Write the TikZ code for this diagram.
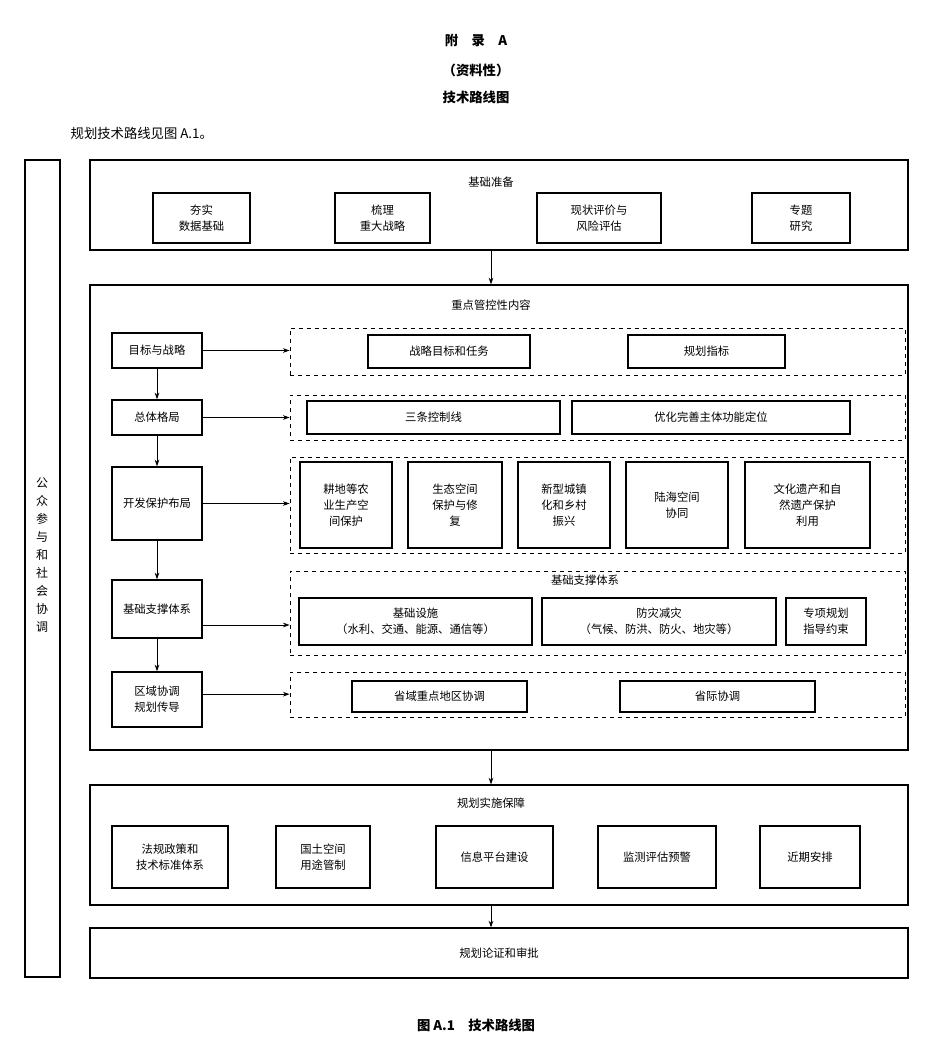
\documentclass[tikz,border=0pt]{standalone}
\usepackage{fontspec}
\setmainfont{Noto Sans CJK SC}
\usetikzlibrary{fit,arrows.meta}
\begin{document}
\begin{tikzpicture}[x=0.75pt, y=-0.75pt,
    font=\fontsize{8.5}{12}\selectfont,
    box/.style={draw, line width=1.1pt, inner sep=0pt},
    txt/.style={label={[align=center]center:#1}},
    outer/.style={draw, line width=0.9pt, inner sep=0pt},
    dbox/.style={draw, dashed, line width=0.6pt, inner sep=0pt},
    arr/.style={-{Stealth[length=5pt,width=3.5pt]}, line width=0.6pt}]
    \useasboundingbox (0,0) rectangle (932,1055);
    % headings
    \node[font=\fontsize{10}{12}\selectfont\bfseries] (hA) at (476,40) {附\quad 录\quad A};
    \node[font=\fontsize{10}{12}\selectfont\bfseries] (hB) at (476,70) {（资料性）};
    \node[font=\fontsize{10}{12}\selectfont\bfseries] (hC) at (476,97) {技术路线图};
    \node[anchor=west, font=\fontsize{10}{12}\selectfont] (intro) at (66,133) {规划技术路线见图 A.1。};
    % side bar
    \node[outer, fit={(25,160) (60,977)}] (side) {};
    \node[align=center, font=\fontsize{9}{13.5}\selectfont] at (42,555) {公\\众\\参\\与\\和\\社\\会\\协\\调};
    % base preparation
    \node[outer, fit={(90,160) (908,250)}] (prep) {};
    \node (prepT) at (491,182) {基础准备};
    \node[box, fit={(153,193) (250,243)}, txt={夯实\\数据基础}] (p1) {};
    \node[box, fit={(335,193) (430,243)}, txt={梳理\\重大战略}] (p2) {};
    \node[box, fit={(537,193) (661,243)}, txt={现状评价与\\风险评估}] (p3) {};
    \node[box, fit={(752,193) (850,243)}, txt={专题\\研究}] (p4) {};
    % key contents
    \node[outer, fit={(90,285) (908,750)}] (core) {};
    \node (coreT) at (491,305) {重点管控性内容};
    \draw[arr] (prep.south -| coreT) -- (core.north -| coreT);
    \node[box, fit={(112,333) (202,368)}, txt={目标与战略}] (goal) {};
    \node[box, fit={(112,400) (202,435)}, txt={总体格局}] (frame) {};
    \node[box, fit={(112,467) (202,540)}, txt={开发保护布局}] (layout) {};
    \node[box, fit={(112,580) (202,638)}, txt={基础支撑体系}] (supp) {};
    \node[box, fit={(112,672) (202,727)}, txt={区域协调\\规划传导}] (region) {};
    \foreach \a/\b in {goal/frame, frame/layout, layout/supp, supp/region}
      \draw[arr] (\a) -- (\b);
    \node[dbox, fit={(290,328) (905,375)}] (d1) {};
    \node[dbox, fit={(290,395) (905,440)}] (d2) {};
    \node[dbox, fit={(290,457) (905,553)}] (d3) {};
    \node[dbox, fit={(290,571) (905,655)}] (d4) {};
    \node[dbox, fit={(290,672) (905,717)}] (d5) {};
    \coordinate (suppA) at ([yshift=-12pt]supp.east);
    \coordinate (regionA) at ([yshift=4pt]region.east);
    \draw[arr] (goal) -- (d1.west |- goal);
    \draw[arr] (frame) -- (d2.west |- frame);
    \draw[arr] (layout) -- (d3.west |- layout);
    \draw[arr] (suppA) -- (d4.west |- suppA);
    \draw[arr] (regionA) -- (d5.west |- regionA);
    \node[box, fit={(368,335) (530,368)}, txt={战略目标和任务}] {};
    \node[box, fit={(628,335) (785,368)}, txt={规划指标}] {};
    \node[box, fit={(307,401) (560,434)}, txt={三条控制线}] {};
    \node[box, fit={(572,401) (850,434)}, txt={优化完善主体功能定位}] {};
    \node[box, fit={(300,462) (392,548)}, txt={耕地等农\\业生产空\\间保护}] {};
    \node[box, fit={(408,462) (502,548)}, txt={生态空间\\保护与修\\复}] {};
    \node[box, fit={(518,462) (610,548)}, txt={新型城镇\\化和乡村\\振兴}] {};
    \node[box, fit={(626,462) (728,548)}, txt={陆海空间\\协同}] {};
    \node[box, fit={(745,462) (870,548)}, txt={文化遗产和自\\然遗产保护\\利用}] {};
    \node (d4T) at (585,580) {基础支撑体系};
    \node[box, fit={(299,598) (532,645)}, txt={基础设施\\（水利、交通、能源、通信等）}] {};
    \node[box, fit={(542,598) (776,645)}, txt={防灾减灾\\（气候、防洪、防火、地灾等）}] {};
    \node[box, fit={(786,598) (866,645)}, txt={专项规划\\指导约束}] {};
    \node[box, fit={(352,681) (527,712)}, txt={省域重点地区协调}] {};
    \node[box, fit={(620,681) (815,712)}, txt={省际协调}] {};
    % implementation
    \node[outer, fit={(90,785) (908,905)}] (impl) {};
    \node (implT) at (491,803) {规划实施保障};
    \draw[arr] (core.south -| implT) -- (impl.north -| implT);
    \node[box, fit={(112,826) (228,888)}, txt={法规政策和\\技术标准体系}] {};
    \node[box, fit={(276,826) (370,888)}, txt={国土空间\\用途管制}] {};
    \node[box, fit={(436,826) (553,888)}, txt={信息平台建设}] {};
    \node[box, fit={(598,826) (716,888)}, txt={监测评估预警}] {};
    \node[box, fit={(760,826) (860,888)}, txt={近期安排}] {};
    \node[outer, fit={(90,928) (908,978)}, txt={规划论证和审批}] (appr) {};
    \draw[arr] (impl.south -| implT) -- (appr.north -| implT);
    % caption
    \node[font=\fontsize{10}{12}\selectfont\bfseries] (cap) at (476,1025) {图 A.1\quad 技术路线图};
\end{tikzpicture}
\end{document}
